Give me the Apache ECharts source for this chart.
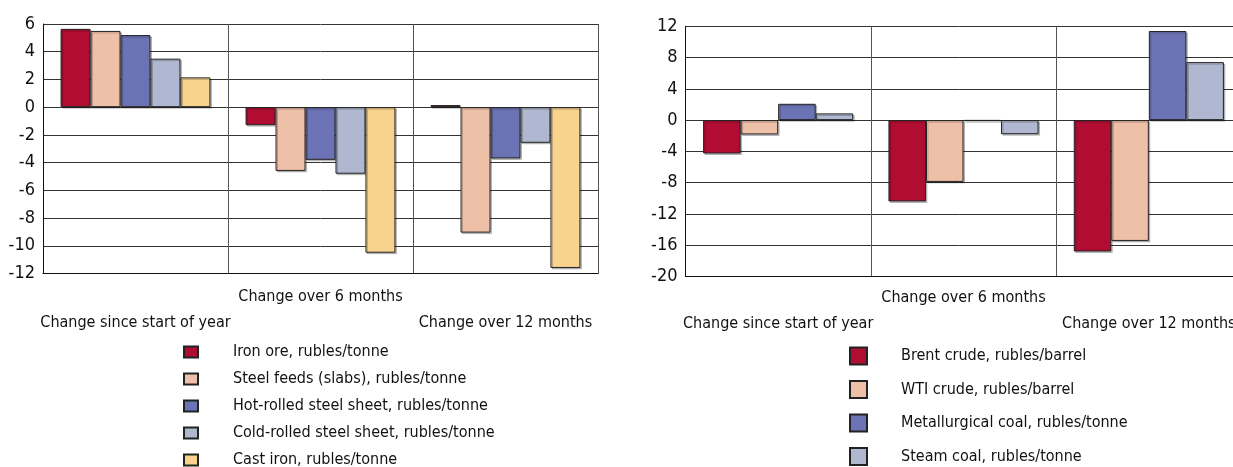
<!DOCTYPE html>
<html>
<head>
<meta charset="utf-8">
<script src="https://cdn.jsdelivr.net/npm/echarts@6/dist/echarts.min.js"></script>
<style>
    html, body {margin: 0; padding: 0; background: #fff;}
    #main {width: 1233px; height: 467px;}
</style>
</head>
<body>
<div id="main"></div>
<script>
var periods = ['Change since start of year', 'Change over 6 months', 'Change over 12 months']

// metals, % change
var metalNames = ['Iron ore, rubles/tonne', 'Steel feeds (slabs), rubles/tonne', 'Hot-rolled steel sheet, rubles/tonne',
    'Cold-rolled steel sheet, rubles/tonne', 'Cast iron, rubles/tonne']
var ironOre = [5.65, -1.3, 0.15]
var steelFeeds = [5.5, -4.6, -9.05]
var hotRolled = [5.2, -3.8, -3.7]
var coldRolled = [3.5, -4.8, -2.57]
var castIron = [2.15, -10.5, -11.6]

// energy, % change
var energyNames = ['Brent crude, rubles/barrel', 'WTI crude, rubles/barrel', 'Metallurgical coal, rubles/tonne', 'Steam coal, rubles/tonne']
var brent = [-4.27, -10.4, -16.8]
var wti = [-1.83, -7.9, -15.45]
var metCoal = [2.09, -0.08, 11.4]
var steamCoal = [0.86, -1.8, 7.42]

var leftTicks = {min: -12, max: 6, interval: 2}
var rightTicks = {min: -20, max: 12, interval: 4}

var colors = ['#B10C32', '#EFC0A8', '#6C73B4', '#B0B7D0', '#F7D38E']
// no narrow font here, condensed DejaVu is the closest
var font = "'Liberation Sans Narrow', 'DejaVu Sans Condensed', sans-serif"

var chart = echarts.init(document.getElementById('main'))

function make_bar(name, data, idx, color) {
    return {
        name: name,
        type: 'bar',
        xAxisIndex: idx,
        yAxisIndex: idx,
        data: data,
        barGap: '0%',
        barCategoryGap: '19%',
        itemStyle: {
            color: color,
            borderColor: '#222',
            borderWidth: 1,
            shadowColor: 'rgba(0,0,0,0.22)',
            shadowOffsetX: 1.5,
            shadowOffsetY: 1.5
        }
    }
}

function cat_axis(idx, margin) {
    return {
        type: 'category',
        gridIndex: idx,
        data: periods,
        axisLine: {onZero: false, lineStyle: {color: '#111', width: 1}},
        axisTick: {show: false},
        splitLine: {show: true, lineStyle: {color: '#555', width: 1}},
        axisLabel: {
            interval: 0,
            margin: margin,
            fontFamily: font,
            fontSize: 16,
            lineHeight: 26,
            color: '#111',
            formatter: function (v, i) {
                return i % 2 === 1 ? v : '\n' + v
            }
        }
    }
}

function val_axis(idx, ticks) {
    return {
        type: 'value',
        gridIndex: idx,
        min: ticks.min,
        max: ticks.max,
        interval: ticks.interval,
        axisLine: {show: true, lineStyle: {color: '#111', width: 1}},
        axisTick: {show: false},
        splitLine: {lineStyle: {color: '#333', width: 1}},
        axisLabel: {margin: 8, fontFamily: font, fontSize: 18, color: '#111'}
    }
}

var series = []
var metals = [ironOre, steelFeeds, hotRolled, coldRolled, castIron]
metals.forEach(function (d, i) {
    series.push(make_bar(metalNames[i], d, 0, colors[i]))
})
var energy = [brent, wti, metCoal, steamCoal]
energy.forEach(function (d, i) {
    series.push(make_bar(energyNames[i], d, 1, colors[i]))
})

var option = {
    animation: false,
    backgroundColor: '#fff',
    grid: [
        {left: 43, top: 24, width: 555, height: 249.5, outerBoundsMode: 'none'},
        {left: 685.5, top: 26.3, width: 556, height: 250.2, outerBoundsMode: 'none'}
    ],
    xAxis: [cat_axis(0, 10), cat_axis(1, 8)],
    yAxis: [val_axis(0, leftTicks), val_axis(1, rightTicks)],
    legend: [
        {
            data: metalNames,
            orient: 'vertical',
            left: 183,
            top: 342,
            height: 140,
            padding: 0,
            icon: 'rect',
            itemWidth: 14,
            itemHeight: 11,
            itemGap: 7,
            textStyle: {fontFamily: font, fontSize: 16, lineHeight: 20, color: '#111', padding: [0, 0, 0, 30]}
        },
        {
            data: energyNames,
            orient: 'vertical',
            left: 849,
            top: 346,
            height: 140,
            padding: 0,
            icon: 'rect',
            itemWidth: 17,
            itemHeight: 17,
            itemGap: 13.5,
            textStyle: {fontFamily: font, fontSize: 16, lineHeight: 20, color: '#111', padding: [0, 0, 0, 29]}
        }
    ],
    series: series
}

chart.setOption(option)
</script>
</body>
</html>
